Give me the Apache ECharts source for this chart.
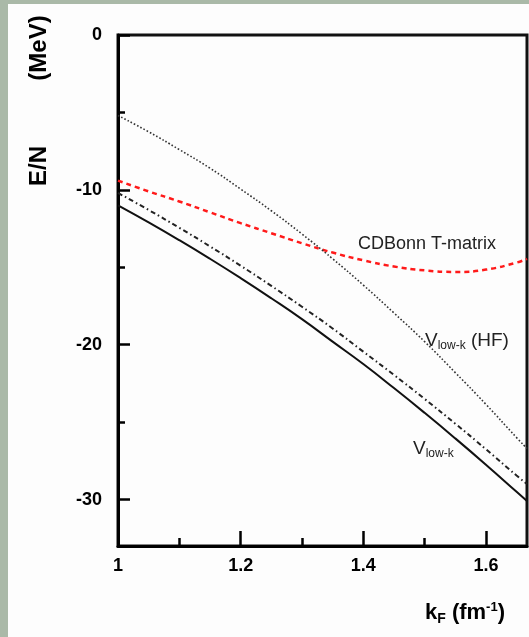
<!DOCTYPE html>
<html lang="en">
<head>
<meta charset="UTF-8">
<title>E/N vs kF</title>
<script src="https://cdn.jsdelivr.net/npm/echarts@6/dist/echarts.min.js"></script>
<style>
	body { margin: 0; background: #aab9a8; }
	#main { position: absolute; left: 8px; top: 4px; width: 521px; height: 633px; background: #fdfdfd; }
</style>
</head>
<body>
<div id="main"></div>
<script>
	// values
	var kF = [1.0, 1.05, 1.1, 1.15, 1.2, 1.25, 1.3, 1.35, 1.4, 1.45, 1.5, 1.55, 1.6, 1.65, 1.667];
	var cdBonn = [-9.4, -10.1, -10.75, -11.45, -12.15, -12.8, -13.45, -14.05, -14.55, -14.95, -15.2, -15.3, -15.15, -14.7, -14.45];
	var vlowkHF = [-5.2, -6.25, -7.4, -8.6, -9.95, -11.35, -12.85, -14.45, -16.15, -17.95, -19.8, -21.8, -23.85, -26.0, -26.7];
	var vlowkDashDot = [-10.2, -11.3, -12.45, -13.65, -14.9, -16.2, -17.55, -18.95, -20.45, -21.95, -23.5, -25.1, -26.75, -28.45, -29.0];
	var vlowk = [-11.0, -12.1, -13.25, -14.45, -15.7, -17.0, -18.35, -19.8, -21.25, -22.8, -24.4, -26.05, -27.75, -29.5, -30.1];

	var xTicks = [1, 1.2, 1.4, 1.6];
	var xMinorTicks = [1.1, 1.3, 1.5];
	var yTicks = [0, -10, -20, -30];
	var yMinorTicks = [-5, -15, -25];

	function pairs(ys) {
		return kF.map(function (x, i) { return [x, ys[i]]; });
	}

	var font = '"Liberation Sans", Arial, sans-serif';
	var tickStyle = { color: '#000', width: 2.5 };

	var chart = echarts.init(document.getElementById('main'));
	chart.setOption({
		animation: false,
		grid: {
			left: 110, top: 31, right: 2, bottom: 91,
			show: true, borderColor: '#111', borderWidth: 3
		},
		xAxis: [{
			type: 'value', min: 1, max: 1.667, position: 'bottom',
			axisLine: { onZero: false, lineStyle: { color: '#000', width: 3 } },
			axisTick: { inside: true, length: 15, customValues: xTicks, lineStyle: tickStyle },
			axisLabel: { customValues: xTicks, margin: 11, color: '#000', fontWeight: 'bold', fontSize: 18, fontFamily: font },
			splitLine: { show: false }
		}, {
			type: 'value', min: 1, max: 1.667, position: 'bottom',
			axisLine: { show: false, onZero: false },
			axisTick: { inside: true, length: 8, customValues: xMinorTicks, lineStyle: tickStyle },
			axisLabel: { show: false },
			splitLine: { show: false }
		}],
		yAxis: [{
			type: 'value', min: -33, max: 0, position: 'left',
			axisLine: { onZero: false, lineStyle: { color: '#000', width: 3 } },
			axisTick: { inside: true, length: 12, customValues: yTicks, lineStyle: tickStyle },
			axisLabel: { customValues: yTicks, margin: 16, color: '#000', fontWeight: 'bold', fontSize: 18, fontFamily: font },
			splitLine: { show: false }
		}, {
			type: 'value', min: -33, max: 0, position: 'left',
			axisLine: { show: false, onZero: false },
			axisTick: { inside: true, length: 7, customValues: yMinorTicks, lineStyle: tickStyle },
			axisLabel: { show: false },
			splitLine: { show: false }
		}],
		series: [{
			name: 'CDBonn T-matrix', type: 'line', smooth: true, showSymbol: false,
			data: pairs(cdBonn),
			lineStyle: { color: '#ff1a1a', width: 2.5, type: [5, 4] }
		}, {
			name: 'Vlow-k (HF)', type: 'line', smooth: true, showSymbol: false,
			data: pairs(vlowkHF),
			lineStyle: { color: '#333', width: 1.6, type: [1.6, 2] }
		}, {
			name: 'Vlow-k dash-dot', type: 'line', smooth: true, showSymbol: false,
			data: pairs(vlowkDashDot),
			lineStyle: { color: '#222', width: 2, type: [5, 3, 1.5, 3] }
		}, {
			name: 'Vlow-k', type: 'line', smooth: true, showSymbol: false,
			data: pairs(vlowk),
			lineStyle: { color: '#111', width: 2 }
		}],
		graphic: [{
			type: 'text', x: 31, y: 44, rotation: Math.PI / 2,
			style: { text: '(MeV)', font: 'bold 24px ' + font, fill: '#000', align: 'center', verticalAlign: 'middle' }
		}, {
			type: 'text', x: 31, y: 162, rotation: Math.PI / 2,
			style: { text: 'E/N', font: 'bold 24px ' + font, fill: '#000', align: 'center', verticalAlign: 'middle' }
		}, {
			type: 'text', x: 419, y: 240,
			style: { text: 'CDBonn T-matrix', font: '18px ' + font, fill: '#222', align: 'center', verticalAlign: 'middle' }
		}, {
			type: 'text', x: 417, y: 337,
			style: {
				text: '{v|V}{s|low-k}{n| (HF)}', align: 'left', verticalAlign: 'middle', fill: '#222',
				rich: {
					v: { fontSize: 19, fontFamily: font, fill: '#222' },
					s: { fontSize: 12, fontFamily: font, fill: '#222', padding: [10, 0, 0, 0] },
					n: { fontSize: 19, fontFamily: font, fill: '#222' }
				}
			}
		}, {
			type: 'text', x: 405, y: 445,
			style: {
				text: '{v|V}{s|low-k}', align: 'left', verticalAlign: 'middle', fill: '#222',
				rich: {
					v: { fontSize: 19, fontFamily: font, fill: '#222' },
					s: { fontSize: 12, fontFamily: font, fill: '#222', padding: [10, 0, 0, 0] }
				}
			}
		}, {
			type: 'text', x: 417, y: 609,
			style: {
				text: '{v|k}{s|F}{v| (fm}{p|-1}{v|)}', align: 'left', verticalAlign: 'middle', fill: '#000',
				rich: {
					v: { fontSize: 22, fontWeight: 'bold', fontFamily: font, fill: '#000' },
					s: { fontSize: 14, fontWeight: 'bold', fontFamily: font, fill: '#000', padding: [12, 0, 0, 0] },
					p: { fontSize: 13, fontWeight: 'bold', fontFamily: font, fill: '#000', padding: [0, 0, 12, 0] }
				}
			}
		}]
	});
</script>
</body>
</html>
